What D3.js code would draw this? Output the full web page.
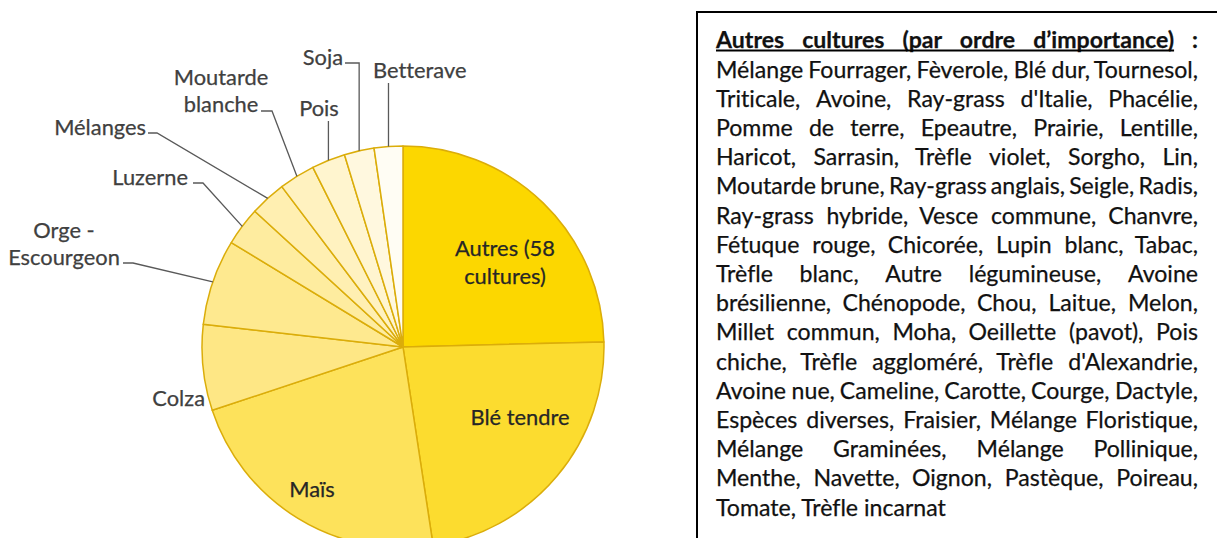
<!DOCTYPE html>
<html>
<head>
<meta charset="utf-8">
<script src="https://cdn.jsdelivr.net/npm/d3@7"></script>
<style>
  html, body { margin: 0; padding: 0; background: #fff; }
  svg { display: block; font-family: Lato, "Open Sans", sans-serif; font-variant-ligatures: none; }
</style>
</head>
<body>
<svg id="chart" width="1217" height="538"></svg>
<script>
// ### data
const cultures = ["Autres (58 cultures)", "Blé tendre", "Maïs", "Colza", "Orge - Escourgeon",
  "Luzerne", "Mélanges", "Moutarde blanche", "Pois", "Soja", "Betterave"];
const shares = [24.6, 23.0, 22.3, 6.9, 6.9, 3.1, 2.9, 2.9, 2.7, 2.4, 2.3];
const sliceColors = ["#fcd700", "#fcdc2f", "#fde25b", "#fee785", "#fee98f", "#feec9f",
  "#ffefb1", "#fff2c0", "#fff5cf", "#fff8df", "#fffdf4"];

const autresTitle = ["Autres", "cultures", "(par", "ordre", "d’importance)"];
const autresLines = [
  "Mélange Fourrager, Fèverole, Blé dur, Tournesol,",
  "Triticale, Avoine, Ray-grass d'Italie, Phacélie,",
  "Pomme de terre, Epeautre, Prairie, Lentille,",
  "Haricot, Sarrasin, Trèfle violet, Sorgho, Lin,",
  "Moutarde brune, Ray-grass anglais, Seigle, Radis,",
  "Ray-grass hybride, Vesce commune, Chanvre,",
  "Fétuque rouge, Chicorée, Lupin blanc, Tabac,",
  "Trèfle blanc, Autre légumineuse, Avoine",
  "brésilienne, Chénopode, Chou, Laitue, Melon,",
  "Millet commun, Moha, Oeillette (pavot), Pois",
  "chiche, Trèfle aggloméré, Trèfle d'Alexandrie,",
  "Avoine nue, Cameline, Carotte, Courge, Dactyle,",
  "Espèces diverses, Fraisier, Mélange Floristique,",
  "Mélange Graminées, Mélange Pollinique,",
  "Menthe, Navette, Oignon, Pastèque, Poireau,",
  "Tomate, Trèfle incarnat"
];

// label placement (text layout only)
const outsideLabels = {
  "Betterave":         {x: 373, y: 70,  anchor: "start",  lines: ["Betterave"], leader: [[null, 83]]},
  "Soja":              {x: 343, y: 57,  anchor: "end",    lines: ["Soja"], leader: [[null, 63], [345, 63]]},
  "Pois":              {x: 319, y: 108, anchor: "middle", lines: ["Pois"], leader: [[null, 121]]},
  "Moutarde blanche":  {x: 221, y: 77,  anchor: "middle", lines: ["Moutarde", "blanche"], leader: [[272, 111], [261, 111]]},
  "Mélanges":          {x: 146, y: 127, anchor: "end",    lines: ["Mélanges"], leader: [[157, 133], [148, 133]]},
  "Luzerne":           {x: 188, y: 177, anchor: "end",    lines: ["Luzerne"], leader: [[203, 183], [193, 183]]},
  "Orge - Escourgeon": {x: 64,  y: 230, anchor: "middle", lines: ["Orge -", "Escourgeon"], leader: [[133, 263], [123, 263]]},
  "Colza":             {x: 205, y: 398, anchor: "end",    lines: ["Colza"], leader: []}
};
const insideLabels = {
  "Autres (58 cultures)": {x: 505, y: 248, lines: ["Autres (58", "cultures)"]},
  "Blé tendre":           {x: 520, y: 417, lines: ["Blé tendre"]},
  "Maïs":                 {x: 312, y: 489, lines: ["Maïs"]}
};

const svg = d3.select("#chart");

// ### font size fitted so Lato takes the width of the original Calibri text
const probe = svg.append("text").style("font-size", "100px").text(autresLines[autresLines.length - 1]);
const legendFont = 230 / probe.node().getComputedTextLength() * 100;
probe.remove();
const labelFont = legendFont * 0.945;

// ### pie
const cx = 403, cy = 347, radius = 201;
const pie = d3.pie().sort(null).value(d => d)(shares);
const arc = d3.arc().innerRadius(0).outerRadius(radius);
const color = d3.scaleOrdinal().domain(cultures).range(sliceColors);

const g = svg.append("g").attr("transform", `translate(${cx},${cy})`);
g.selectAll("path.slice")
  .data(pie)
  .join("path")
  .attr("class", "slice")
  .attr("d", arc)
  .attr("fill", (d, i) => color(cultures[i]))
  .attr("stroke", "#dbad0a")
  .attr("stroke-width", 1.5)
  .attr("stroke-linejoin", "round");

// leader lines start on the arc at each slice's middle angle
const edgePoint = d => {
  const a = (d.startAngle + d.endAngle) / 2;
  return [cx + radius * Math.sin(a), cy - radius * Math.cos(a)];
};

const outsideData = pie.map((d, i) => ({d, name: cultures[i]})).filter(o => outsideLabels[o.name]);

svg.append("g").selectAll("path")
  .data(outsideData.filter(o => outsideLabels[o.name].leader.length))
  .join("path")
  .attr("fill", "none")
  .attr("stroke", "#595959")
  .attr("stroke-width", 1.3)
  .attr("d", o => {
    const p0 = edgePoint(o.d);
    const pts = [p0].concat(outsideLabels[o.name].leader.map(([x, y]) => [x === null ? p0[0] : x, y]));
    return d3.line()(pts);
  });

const outText = svg.append("g").selectAll("text")
  .data(outsideData)
  .join("text")
  .attr("fill", "#404040")
  .attr("stroke", "#404040")
  .attr("stroke-width", 0.25)
  .style("font-size", labelFont + "px")
  .attr("text-anchor", o => outsideLabels[o.name].anchor);
outText.selectAll("tspan")
  .data(o => outsideLabels[o.name].lines.map((t, k) => ({t, k, L: outsideLabels[o.name]})))
  .join("tspan")
  .attr("x", e => e.L.x)
  .attr("y", e => e.L.y + e.k * 27.5)
  .attr("dy", "0.36em")
  .text(e => e.t);

const inText = svg.append("g").selectAll("text")
  .data(Object.values(insideLabels))
  .join("text")
  .attr("fill", "#262626")
  .attr("stroke", "#262626")
  .attr("stroke-width", 0.25)
  .attr("text-anchor", "middle")
  .style("font-size", labelFont + "px");
inText.selectAll("tspan")
  .data(L => L.lines.map((t, k) => ({t, k, L})))
  .join("tspan")
  .attr("x", e => e.L.x)
  .attr("y", e => e.L.y + e.k * 28)
  .attr("dy", "0.36em")
  .text(e => e.t);

// ### text box with the other cultures
svg.append("rect")
  .attr("x", 697).attr("y", 12)
  .attr("width", 560).attr("height", 560)
  .attr("fill", "none")
  .attr("stroke", "#000")
  .attr("stroke-width", 2);

const boxLeft = 716, boxRight = 1198, firstRow = 40, rowStep = 29.2;
const box = svg.append("g").style("font-size", legendFont + "px")
  .attr("fill", "#111").attr("stroke", "#111").attr("stroke-width", 0.25);

// justify a list of words between boxLeft and boxRight
function justify(sel, words, y, bold) {
  const t = sel.append("text").attr("y", y).attr("dy", "0.36em")
    .style("font-weight", bold ? "bold" : null);
  const spans = t.selectAll("tspan").data(words).join("tspan").text(w => w);
  const widths = spans.nodes().map(n => n.getComputedTextLength());
  const gap = (boxRight - boxLeft - d3.sum(widths)) / (words.length - 1);
  let x = boxLeft;
  spans.attr("x", (w, i) => { const v = x; x += widths[i] + gap; return v; });
  return {t, widths, spans};
}

const title = justify(box, autresTitle.concat([":"]), firstRow, true);
const lastIdx = autresTitle.length - 1;
const titleEnd = +title.spans.filter((w, i) => i === lastIdx).attr("x") + title.widths[lastIdx];
box.append("line")
  .attr("x1", boxLeft).attr("x2", titleEnd)
  .attr("y1", firstRow + 10.5).attr("y2", firstRow + 10.5)
  .attr("stroke", "#000").attr("stroke-width", 1.8);

autresLines.forEach((line, i) => {
  const y = firstRow + (i + 1) * rowStep;
  if (i === autresLines.length - 1) {
    box.append("text").attr("x", boxLeft).attr("y", y).attr("dy", "0.36em").text(line);
  } else {
    justify(box, line.split(" "), y, false);
  }
});
</script>
</body>
</html>
